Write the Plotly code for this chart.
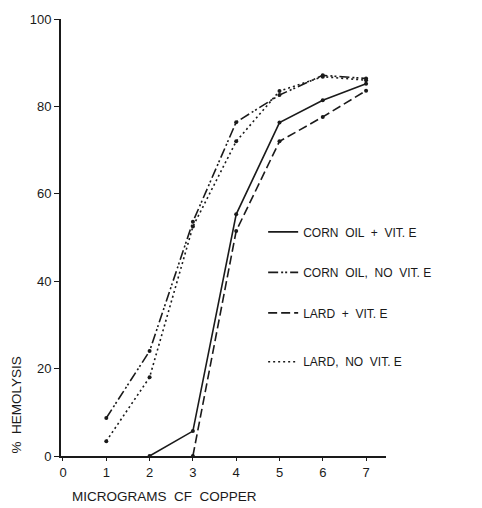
import plotly.graph_objects as go

# Hemolysis (%) versus micrograms of copper for four diets
copper_corn_vit = [2, 3, 4, 5, 6, 7]
hemo_corn_vit = [0, 5.7, 55.3, 76.3, 81.4, 85.2]

copper_corn_novit = [1, 2, 3, 4, 5, 6, 7]
hemo_corn_novit = [8.7, 24.0, 53.6, 76.4, 82.6, 87.1, 86.4]

copper_lard_vit = [3, 4, 5, 6, 7]
hemo_lard_vit = [0, 51.5, 72.0, 77.6, 83.6]

copper_lard_novit = [1, 2, 3, 4, 5, 6, 7]
hemo_lard_novit = [3.4, 18.0, 52.5, 72.0, 83.5, 86.8, 86.0]

series_names = ["CORN  OIL  +  VIT. E", "CORN  OIL,  NO  VIT. E",
                "LARD  +  VIT. E", "LARD,  NO  VIT. E"]

x_ticks = [0, 1, 2, 3, 4, 5, 6, 7]
y_ticks = [0, 20, 40, 60, 80, 100]
y_tick_text = ["0", "20", "40", "60", "80", "100"]

FONT = "Liberation Sans"
INK = "#1a1a1a"

series = [
    (copper_corn_vit, hemo_corn_vit, "solid"),
    (copper_corn_novit, hemo_corn_novit, "10px,3px,2px,2px,2px,3px"),
    (copper_lard_vit, hemo_lard_vit, "9px,4px"),
    (copper_lard_novit, hemo_lard_novit, "2px,3px"),
]
# the last key entry sits a little further down, in its own legend box
legend_ids = ["legend", "legend", "legend", "legend2"]

fig = go.Figure()
for i, ((xs, ys, dash), name) in enumerate(zip(series, series_names)):
    # plotted curve with point markers
    fig.add_trace(go.Scatter(
        x=xs, y=ys, mode="lines+markers",
        line=dict(color=INK, width=1.6, dash=dash),
        marker=dict(color=INK, size=4),
        showlegend=False, cliponaxis=False,
    ))
    # key entry: line style only
    fig.add_trace(go.Scatter(
        x=[None], y=[None], name=name, mode="lines",
        line=dict(color=INK, width=1.6, dash=dash),
        legendgroup=f"g{i}", legend=legend_ids[i],
    ))

legend_style = dict(
    xanchor="left", yanchor="top",
    bgcolor="rgba(0,0,0,0)", tracegroupgap=21.5,
    font=dict(family=FONT, size=12, color=INK),
    itemwidth=30,
)

fig.update_layout(
    width=482, height=508,
    margin=dict(l=61, r=96, t=14, b=52),
    paper_bgcolor="white", plot_bgcolor="white",
    font=dict(family=FONT, color=INK, size=12),
    showlegend=True,
    legend=dict(x=0.622, y=0.546, **legend_style),
    legend2=dict(x=0.622, y=0.249, **legend_style),
    xaxis=dict(
        range=[-0.046, 7.46], tickmode="array", tickvals=x_ticks,
        ticks="outside", ticklen=3, tickwidth=1.3, tickcolor=INK,
        showline=True, linecolor=INK, linewidth=2,
        showgrid=False, zeroline=False,
        tickfont=dict(family=FONT, size=13, color=INK),
    ),
    yaxis=dict(
        range=[0, 100], tickmode="array", tickvals=y_ticks, ticktext=y_tick_text,
        ticks="outside", ticklen=5, tickwidth=1.3, tickcolor=INK,
        showline=True, linecolor=INK, linewidth=2,
        showgrid=False, zeroline=False,
        tickfont=dict(family=FONT, size=13, color=INK),
    ),
    annotations=[
        dict(text="MICROGRAMS  CF  COPPER", xref="paper", yref="paper",
             x=(164 - 61) / 325, y=-41 / 442, xanchor="center", yanchor="middle",
             showarrow=False, font=dict(family=FONT, size=13.5, color=INK)),
        dict(text="%  HEMOLYSIS", xref="paper", yref="paper",
             x=(17 - 61) / 325, y=(456 - 405) / 442, xanchor="center", yanchor="middle",
             textangle=-90, showarrow=False, font=dict(family=FONT, size=13.5, color=INK)),
    ],
)

fig.write_html("out.html")
